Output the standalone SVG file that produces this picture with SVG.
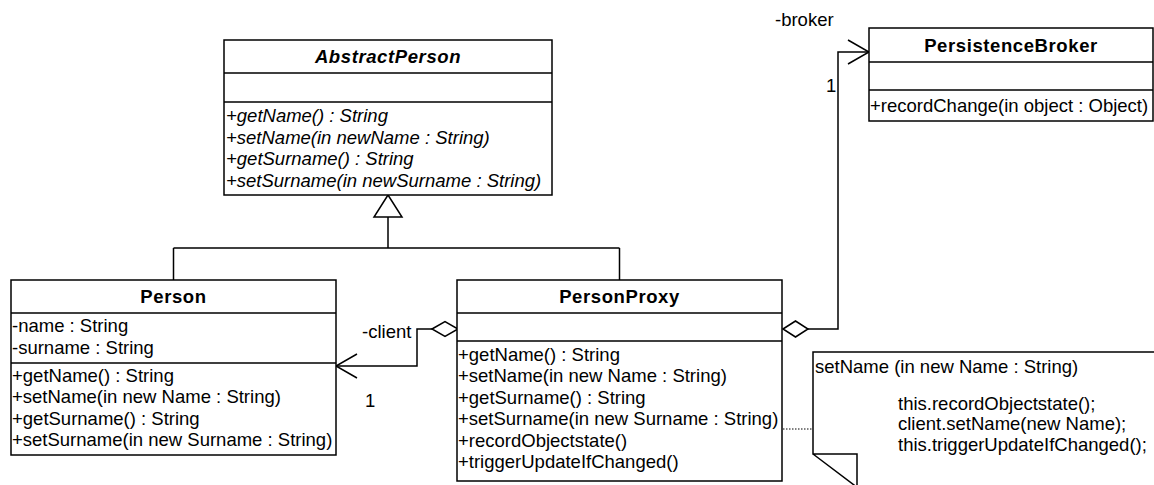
<svg xmlns="http://www.w3.org/2000/svg" width="1154" height="485" viewBox="0 0 1154 485">
<style>
text{font-family:"Liberation Sans",Arial,Helvetica,sans-serif;font-size:18.5px;fill:#000}
.t{font-weight:bold;text-anchor:middle;letter-spacing:0.6px}
.i{font-style:italic}
.box{fill:#fff;stroke:#000;stroke-width:1.5}
.ln{fill:none;stroke:#000;stroke-width:1.5}
.wh{fill:#fff;stroke:#000;stroke-width:1.5}
.dot{fill:none;stroke:#000;stroke-width:1;stroke-dasharray:1.5,1.5}
</style>
<rect width="1154" height="485" fill="#fff"/>
<g id="connectors">
  <path class="ln" d="M388,217 V248 M173.5,248 H619.5 M173.5,248 V280 M619.5,248 V280"/>
  <polygon class="wh" points="388,195 374,217 402,217"/>
  <polyline class="ln" points="336,366 417,366 417,329 432,329"/>
  <polygon class="wh" points="432,329 445,321.5 458,329 445,336.5"/>
  <polyline class="ln" points="357,354 336,366 357,378"/>
  <polyline class="ln" points="808,329 838,329 838,52 869,52"/>
  <polygon class="wh" points="783,329 795.5,321 808,329 795.5,337"/>
  <polyline class="ln" points="848,40 869,52 848,64"/>
  <line class="dot" x1="783" y1="429" x2="813" y2="429"/>
  <text x="362" y="338">-client</text>
  <text x="365" y="407">1</text>
  <text x="775" y="26">-broker</text>
  <text x="826" y="92">1</text>
</g>
<g id="AbstractPerson">
  <rect class="box" x="224" y="40" width="328" height="155"/>
  <path class="ln" d="M224,73 H552 M224,102 H552"/>
  <text class="t i" x="388" y="63">AbstractPerson</text>
  <text class="i" x="226" y="122">+getName() : String</text>
  <text class="i" x="226" y="143.5">+setName(in newName : String)</text>
  <text class="i" x="226" y="165">+getSurname() : String</text>
  <text class="i" x="226" y="186.5">+setSurname(in newSurname : String)</text>
</g>
<g id="Person">
  <rect class="box" x="11" y="280" width="325" height="175"/>
  <path class="ln" d="M11,313 H336 M11,363 H336"/>
  <text class="t" x="173.5" y="303">Person</text>
  <text x="12" y="332">-name : String</text>
  <text x="12" y="353.5">-surname : String</text>
  <text x="12" y="382">+getName() : String</text>
  <text x="12" y="403">+setName(in new Name : String)</text>
  <text x="12" y="424.5">+getSurname() : String</text>
  <text x="12" y="446">+setSurname(in new Surname : String)</text>
</g>
<g id="PersonProxy">
  <rect class="box" x="457" y="280" width="325" height="201"/>
  <path class="ln" d="M457,313 H782 M457,341 H782"/>
  <text class="t" x="619.5" y="303">PersonProxy</text>
  <text x="458" y="361">+getName() : String</text>
  <text x="458" y="382">+setName(in new Name : String)</text>
  <text x="458" y="403.5">+getSurname() : String</text>
  <text x="458" y="425">+setSurname(in new Surname : String)</text>
  <text x="458" y="446.5">+recordObjectstate()</text>
  <text x="458" y="468">+triggerUpdateIfChanged()</text>
</g>
<g id="PersistenceBroker">
  <rect class="box" x="869" y="28" width="284" height="93"/>
  <path class="ln" d="M869,62 H1153 M869,90 H1153"/>
  <text class="t" x="1011" y="52">PersistenceBroker</text>
  <text x="870" y="112">+recordChange(in object : Object)</text>
</g>
<g id="note">
  <path class="ln" d="M1156,352 H813 V454 H857 V487 M813,454 L858,488"/>
  <text x="815" y="373">setName (in new Name : String)</text>
  <text x="898" y="410">this.recordObjectstate();</text>
  <text x="898" y="430">client.setName(new Name);</text>
  <text x="898" y="451">this.triggerUpdateIfChanged();</text>
</g>
</svg>
